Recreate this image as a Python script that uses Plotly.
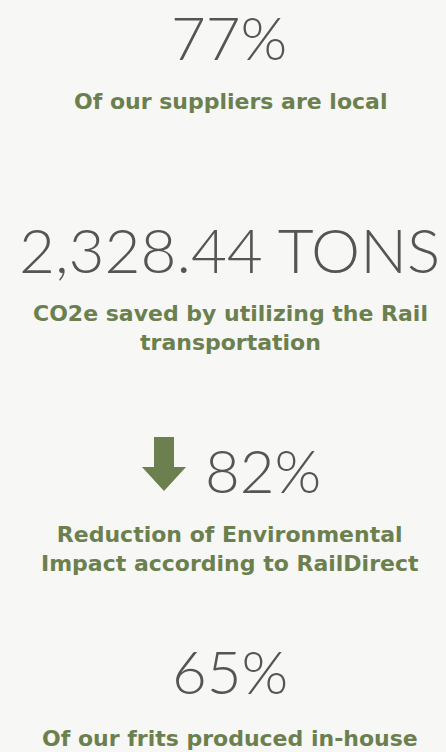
import plotly.graph_objects as go

values = ["77%", "2,328.44 TONS", "82%", "65%"]
captions = [
    "Of our suppliers are local",
    "CO2e saved by utilizing the Rail<br>transportation",
    "Reduction of Environmental<br>Impact according to RailDirect",
    "Of our frits produced in-house",
]
value_y = [0, 249, 470, 671]
value_x = [229, 229, 263, 230]
value_size = [60, 62, 60, 60]
caption_y = [101, 328, 549, 738]
has_arrow = [False, False, True, False]

BG = "#f7f7f5"
GREY = "#555555"
GREEN = "#6b7f4f"

fig = go.Figure()
fig.add_trace(go.Scatter(x=[0, 446], y=[0, 752], mode="markers",
                         marker=dict(opacity=0), hoverinfo="skip", showlegend=False))

for i, (v, vx, vy, c, cy, arr) in enumerate(zip(values, value_x, value_y, captions, caption_y, has_arrow)):
    fig.add_annotation(x=vx, y=vy, text=v, showarrow=False, xanchor="center",
                       yanchor="top" if i == 0 else "middle", borderpad=0,
                       font=dict(family="Lato", size=value_size[i], color=GREY, weight=300))
    fig.add_annotation(x=230, y=cy, text=c, showarrow=False, xanchor="center", yanchor="middle",
                       align="center", borderpad=0,
                       font=dict(family="DejaVu Sans", size=22, color=GREEN, weight=700))
    if arr:
        fig.add_shape(type="path", xref="x", yref="y",
                      path=f"M {vx-109} {vy-33} L {vx-89} {vy-33} L {vx-89} {vy-3} L {vx-77} {vy-3} "
                           f"L {vx-99} {vy+21} L {vx-121} {vy-3} L {vx-109} {vy-3} Z",
                      fillcolor=GREEN, line=dict(width=0))

fig.update_xaxes(range=[0, 446], visible=False, fixedrange=True)
fig.update_yaxes(range=[752, 0], visible=False, fixedrange=True)
fig.update_layout(width=446, height=752, margin=dict(l=0, r=0, t=0, b=0),
                  paper_bgcolor=BG, plot_bgcolor=BG, showlegend=False)
fig.write_html("out.html", config={"displayModeBar": False},
               post_script="document.body.style.margin='0';document.body.style.background='#f7f7f5';")
